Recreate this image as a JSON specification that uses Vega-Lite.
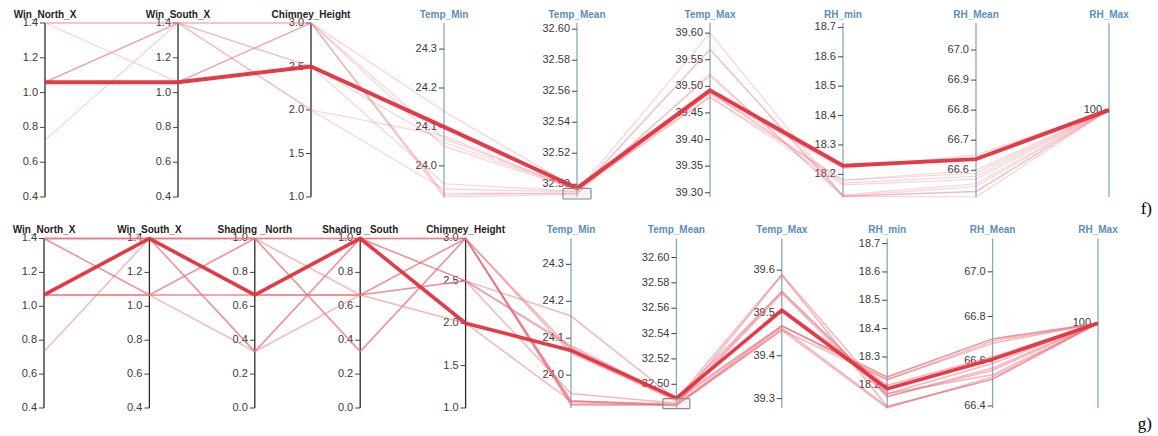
{
  "$schema": "https://vega.github.io/schema/vega-lite/v6.json",
  "padding": 0,
  "background": "white",
  "config": {
    "view": {"stroke": null},
    "font": "Liberation Sans",
    "text": {"font": "Liberation Sans"},
    "title": {"font": "Liberation Serif"}
  },
  "datasets": {
    "f_dims": [
      {"dim": "Win_North_X", "title": "Win_North_X", "group": "design", "lo": 0.4, "hi": 1.4, "fmt": ".1f", "ticks": [0.4, 0.6, 0.8, 1.0, 1.2, 1.4]},
      {"dim": "Win_South_X", "title": "Win_South_X", "group": "design", "lo": 0.4, "hi": 1.4, "fmt": ".1f", "ticks": [0.4, 0.6, 0.8, 1.0, 1.2, 1.4]},
      {"dim": "Chimney_Height", "title": "Chimney_Height", "group": "design", "lo": 1.0, "hi": 3.0, "fmt": ".1f", "ticks": [1.0, 1.5, 2.0, 2.5, 3.0]},
      {"dim": "Temp_Min", "title": "Temp_Min", "group": "climate", "lo": 23.92, "hi": 24.367, "fmt": ".1f", "ticks": [24.0, 24.1, 24.2, 24.3]},
      {"dim": "Temp_Mean", "title": "Temp_Mean", "group": "climate", "lo": 32.4918, "hi": 32.604, "fmt": ".2f", "ticks": [32.5, 32.52, 32.54, 32.56, 32.58, 32.6]},
      {"dim": "Temp_Max", "title": "Temp_Max", "group": "climate", "lo": 39.292, "hi": 39.619, "fmt": ".2f", "ticks": [39.3, 39.35, 39.4, 39.45, 39.5, 39.55, 39.6]},
      {"dim": "RH_min", "title": "RH_min", "group": "climate", "lo": 18.123, "hi": 18.715, "fmt": ".1f", "ticks": [18.2, 18.3, 18.4, 18.5, 18.6, 18.7]},
      {"dim": "RH_Mean", "title": "RH_Mean", "group": "climate", "lo": 66.511, "hi": 67.09, "fmt": ".1f", "ticks": [66.6, 66.7, 66.8, 66.9, 67.0]},
      {"dim": "RH_Max", "title": "RH_Max", "group": "climate", "lo": 99.5, "hi": 100.5, "fmt": "d", "ticks": [100]}
    ],
    "f_runs": [
      {"run": 1, "selected": true, "Win_North_X": 1.06, "Win_South_X": 1.06, "Chimney_Height": 2.5, "Temp_Min": 24.1, "Temp_Mean": 32.4975, "Temp_Max": 39.4925, "RH_min": 18.229, "RH_Mean": 66.637, "RH_Max": 100},
      {"run": 2, "selected": false, "Win_North_X": 1.4, "Win_South_X": 1.4, "Chimney_Height": 3.0, "Temp_Min": 24.05, "Temp_Mean": 32.4965, "Temp_Max": 39.48, "RH_min": 18.18, "RH_Mean": 66.59, "RH_Max": 100},
      {"run": 3, "selected": false, "Win_North_X": 1.4, "Win_South_X": 1.06, "Chimney_Height": 3.0, "Temp_Min": 24.07, "Temp_Mean": 32.497, "Temp_Max": 39.49, "RH_min": 18.17, "RH_Mean": 66.58, "RH_Max": 100},
      {"run": 4, "selected": false, "Win_North_X": 1.06, "Win_South_X": 1.4, "Chimney_Height": 2.5, "Temp_Min": 24.06, "Temp_Mean": 32.4968, "Temp_Max": 39.485, "RH_min": 18.22, "RH_Mean": 66.651, "RH_Max": 100},
      {"run": 5, "selected": false, "Win_North_X": 0.727, "Win_South_X": 1.4, "Chimney_Height": 2.5, "Temp_Min": 23.954, "Temp_Mean": 32.4955, "Temp_Max": 39.6, "RH_min": 18.126, "RH_Mean": 66.546, "RH_Max": 100},
      {"run": 6, "selected": false, "Win_North_X": 1.06, "Win_South_X": 1.4, "Chimney_Height": 3.0, "Temp_Min": 23.93, "Temp_Mean": 32.494, "Temp_Max": 39.569, "RH_min": 18.125, "RH_Mean": 66.529, "RH_Max": 100},
      {"run": 7, "selected": false, "Win_North_X": 1.06, "Win_South_X": 1.06, "Chimney_Height": 3.0, "Temp_Min": 23.92, "Temp_Mean": 32.4935, "Temp_Max": 39.523, "RH_min": 18.125, "RH_Mean": 66.511, "RH_Max": 100},
      {"run": 8, "selected": false, "Win_North_X": 1.4, "Win_South_X": 1.4, "Chimney_Height": 2.0, "Temp_Min": 24.077, "Temp_Mean": 32.496, "Temp_Max": 39.48, "RH_min": 18.164, "RH_Mean": 66.57, "RH_Max": 100},
      {"run": 9, "selected": false, "Win_North_X": 1.06, "Win_South_X": 1.4, "Chimney_Height": 2.0, "Temp_Min": 23.94, "Temp_Mean": 32.4952, "Temp_Max": 39.52, "RH_min": 18.13, "RH_Mean": 66.555, "RH_Max": 100},
      {"run": 10, "selected": false, "Win_North_X": 1.06, "Win_South_X": 1.06, "Chimney_Height": 3.0, "Temp_Min": 24.14, "Temp_Mean": 32.4972, "Temp_Max": 39.488, "RH_min": 18.18, "RH_Mean": 66.6, "RH_Max": 100},
      {"run": 11, "selected": false, "Win_North_X": 1.4, "Win_South_X": 1.4, "Chimney_Height": 3.0, "Temp_Min": 23.925, "Temp_Mean": 32.4945, "Temp_Max": 39.57, "RH_min": 18.126, "RH_Mean": 66.53, "RH_Max": 100}
    ],
    "f_brush": [
      {"dim": "Temp_Mean", "from": 32.4905, "to": 32.4974}
    ],
    "g_dims": [
      {"dim": "Win_North_X", "title": "Win_North_X", "group": "design", "lo": 0.4, "hi": 1.4, "fmt": ".1f", "ticks": [0.4, 0.6, 0.8, 1.0, 1.2, 1.4]},
      {"dim": "Win_South_X", "title": "Win_South_X", "group": "design", "lo": 0.4, "hi": 1.4, "fmt": ".1f", "ticks": [0.4, 0.6, 0.8, 1.0, 1.2, 1.4]},
      {"dim": "Shading_North", "title": "Shading _North", "group": "design", "lo": 0.0, "hi": 1.0, "fmt": ".1f", "ticks": [0.0, 0.2, 0.4, 0.6, 0.8, 1.0]},
      {"dim": "Shading_South", "title": "Shading _South", "group": "design", "lo": 0.0, "hi": 1.0, "fmt": ".1f", "ticks": [0.0, 0.2, 0.4, 0.6, 0.8, 1.0]},
      {"dim": "Chimney_Height", "title": "Chimney_Height", "group": "design", "lo": 1.0, "hi": 3.0, "fmt": ".1f", "ticks": [1.0, 1.5, 2.0, 2.5, 3.0]},
      {"dim": "Temp_Min", "title": "Temp_Min", "group": "climate", "lo": 23.911, "hi": 24.37, "fmt": ".1f", "ticks": [24.0, 24.1, 24.2, 24.3]},
      {"dim": "Temp_Mean", "title": "Temp_Mean", "group": "climate", "lo": 32.4813, "hi": 32.615, "fmt": ".2f", "ticks": [32.5, 32.52, 32.54, 32.56, 32.58, 32.6]},
      {"dim": "Temp_Max", "title": "Temp_Max", "group": "climate", "lo": 39.278, "hi": 39.674, "fmt": ".1f", "ticks": [39.3, 39.4, 39.5, 39.6]},
      {"dim": "RH_min", "title": "RH_min", "group": "climate", "lo": 18.12, "hi": 18.718, "fmt": ".1f", "ticks": [18.2, 18.3, 18.4, 18.5, 18.6, 18.7]},
      {"dim": "RH_Mean", "title": "RH_Mean", "group": "climate", "lo": 66.391, "hi": 67.149, "fmt": ".1f", "ticks": [66.4, 66.6, 66.8, 67.0]},
      {"dim": "RH_Max", "title": "RH_Max", "group": "climate", "lo": 99.5, "hi": 100.5, "fmt": "d", "ticks": [100]}
    ],
    "g_runs": [
      {"run": 1, "selected": true, "Win_North_X": 1.067, "Win_South_X": 1.4, "Shading_North": 0.667, "Shading_South": 1.0, "Chimney_Height": 2.0, "Temp_Min": 24.067, "Temp_Mean": 32.489, "Temp_Max": 39.506, "RH_min": 18.188, "RH_Mean": 66.609, "RH_Max": 100},
      {"run": 2, "selected": false, "Win_North_X": 1.4, "Win_South_X": 1.4, "Shading_North": 1.0, "Shading_South": 1.0, "Chimney_Height": 3.0, "Temp_Min": 23.92, "Temp_Mean": 32.484, "Temp_Max": 39.588, "RH_min": 18.125, "RH_Mean": 66.52, "RH_Max": 100},
      {"run": 3, "selected": false, "Win_North_X": 1.4, "Win_South_X": 1.067, "Shading_North": 0.667, "Shading_South": 0.667, "Chimney_Height": 3.0, "Temp_Min": 24.07, "Temp_Mean": 32.4885, "Temp_Max": 39.55, "RH_min": 18.17, "RH_Mean": 66.59, "RH_Max": 100},
      {"run": 4, "selected": false, "Win_North_X": 1.067, "Win_South_X": 1.067, "Shading_North": 0.667, "Shading_South": 0.667, "Chimney_Height": 2.5, "Temp_Min": 24.075, "Temp_Mean": 32.4885, "Temp_Max": 39.47, "RH_min": 18.229, "RH_Mean": 66.7, "RH_Max": 100},
      {"run": 5, "selected": false, "Win_North_X": 0.733, "Win_South_X": 1.4, "Shading_North": 0.333, "Shading_South": 1.0, "Chimney_Height": 3.0, "Temp_Min": 23.93, "Temp_Mean": 32.483, "Temp_Max": 39.46, "RH_min": 18.22, "RH_Mean": 66.69, "RH_Max": 100},
      {"run": 6, "selected": false, "Win_North_X": 1.067, "Win_South_X": 1.4, "Shading_North": 1.0, "Shading_South": 0.667, "Chimney_Height": 2.5, "Temp_Min": 24.16, "Temp_Mean": 32.488, "Temp_Max": 39.59, "RH_min": 18.16, "RH_Mean": 66.56, "RH_Max": 100},
      {"run": 7, "selected": false, "Win_North_X": 1.4, "Win_South_X": 1.4, "Shading_North": 0.333, "Shading_South": 1.0, "Chimney_Height": 2.5, "Temp_Min": 23.95, "Temp_Mean": 32.485, "Temp_Max": 39.55, "RH_min": 18.17, "RH_Mean": 66.54, "RH_Max": 100},
      {"run": 8, "selected": false, "Win_North_X": 1.067, "Win_South_X": 1.067, "Shading_North": 1.0, "Shading_South": 0.333, "Chimney_Height": 3.0, "Temp_Min": 23.92, "Temp_Mean": 32.4835, "Temp_Max": 39.465, "RH_min": 18.125, "RH_Mean": 66.52, "RH_Max": 100},
      {"run": 9, "selected": false, "Win_North_X": 1.4, "Win_South_X": 1.4, "Shading_North": 1.0, "Shading_South": 1.0, "Chimney_Height": 2.5, "Temp_Min": 24.08, "Temp_Mean": 32.4887, "Temp_Max": 39.51, "RH_min": 18.2, "RH_Mean": 66.62, "RH_Max": 100},
      {"run": 10, "selected": false, "Win_North_X": 1.067, "Win_South_X": 1.4, "Shading_North": 0.667, "Shading_South": 0.667, "Chimney_Height": 2.0, "Temp_Min": 23.93, "Temp_Mean": 32.4842, "Temp_Max": 39.47, "RH_min": 18.22, "RH_Mean": 66.68, "RH_Max": 100},
      {"run": 11, "selected": false, "Win_North_X": 1.4, "Win_South_X": 1.067, "Shading_North": 1.0, "Shading_South": 1.0, "Chimney_Height": 3.0, "Temp_Min": 24.06, "Temp_Mean": 32.487, "Temp_Max": 39.47, "RH_min": 18.23, "RH_Mean": 66.7, "RH_Max": 100},
      {"run": 12, "selected": false, "Win_North_X": 1.067, "Win_South_X": 1.067, "Shading_North": 0.333, "Shading_South": 0.667, "Chimney_Height": 3.0, "Temp_Min": 23.93, "Temp_Mean": 32.484, "Temp_Max": 39.545, "RH_min": 18.16, "RH_Mean": 66.57, "RH_Max": 100},
      {"run": 13, "selected": false, "Win_North_X": 1.4, "Win_South_X": 1.4, "Shading_North": 1.0, "Shading_South": 0.333, "Chimney_Height": 3.0, "Temp_Min": 23.925, "Temp_Mean": 32.4838, "Temp_Max": 39.46, "RH_min": 18.12, "RH_Mean": 66.53, "RH_Max": 100}
    ],
    "g_brush": [
      {"dim": "Temp_Mean", "from": 32.4808, "to": 32.4887}
    ]
  },
  "vconcat": [
    {
      "width": 1158,
      "height": 215,
      "title": {"text": "f)", "orient": "bottom", "anchor": "end", "frame": "group", "offset": -14, "dx": -6, "font": "Liberation Serif", "fontSize": 17, "fontWeight": "normal", "color": "#000000"},
      "layer": [
        {
          "data": {"name": "f_dims"},
          "mark": {"type": "rule", "strokeWidth": 1.3},
          "encoding": {
            "x": {"field": "dim", "type": "nominal", "axis": null, "scale": {"type": "point", "domain": ["Win_North_X", "Win_South_X", "Chimney_Height", "Temp_Min", "Temp_Mean", "Temp_Max", "RH_min", "RH_Mean", "RH_Max"], "range": [45, 1109], "padding": 0}},
            "y": {"datum": 0, "type": "quantitative", "axis": null, "scale": {"domain": [-0.10345, 1.1322], "nice": false, "zero": false}},
            "y2": {"datum": 1},
            "stroke": {"field": "group", "type": "nominal", "legend": null, "scale": {"domain": ["design", "climate"], "range": ["#2a2a2a", "#84a9c2"]}}
          }
        },
        {
          "data": {"name": "f_dims"},
          "transform": [
            {"flatten": ["ticks"], "as": ["tick"]},
            {"calculate": "(datum.tick - datum.lo) / (datum.hi - datum.lo)", "as": "pos"}
          ],
          "mark": {"type": "rule", "xOffset": -5, "stroke": "#444444", "strokeWidth": 1},
          "encoding": {
            "x": {"field": "dim", "type": "nominal", "axis": null, "scale": {"type": "point", "domain": ["Win_North_X", "Win_South_X", "Chimney_Height", "Temp_Min", "Temp_Mean", "Temp_Max", "RH_min", "RH_Mean", "RH_Max"], "range": [45, 1109], "padding": 0}},
            "x2": {"field": "dim"},
            "y": {"field": "pos", "type": "quantitative", "axis": null, "scale": {"domain": [-0.10345, 1.1322], "nice": false, "zero": false}}
          }
        },
        {
          "data": {"name": "f_dims"},
          "transform": [
            {"flatten": ["ticks"], "as": ["tick"]},
            {"calculate": "(datum.tick - datum.lo) / (datum.hi - datum.lo)", "as": "pos"},
            {"calculate": "format(datum.tick, datum.fmt)", "as": "label"}
          ],
          "mark": {"type": "text", "align": "right", "baseline": "middle", "dx": -7, "fontSize": 11, "fill": "#3a3a3a"},
          "encoding": {
            "x": {"field": "dim", "type": "nominal", "axis": null, "scale": {"type": "point", "domain": ["Win_North_X", "Win_South_X", "Chimney_Height", "Temp_Min", "Temp_Mean", "Temp_Max", "RH_min", "RH_Mean", "RH_Max"], "range": [45, 1109], "padding": 0}},
            "y": {"field": "pos", "type": "quantitative", "axis": null, "scale": {"domain": [-0.10345, 1.1322], "nice": false, "zero": false}},
            "text": {"field": "label"}
          }
        },
        {
          "data": {"name": "f_runs"},
          "transform": [
            {"filter": "!datum.selected"},
            {"fold": ["Win_North_X", "Win_South_X", "Chimney_Height", "Temp_Min", "Temp_Mean", "Temp_Max", "RH_min", "RH_Mean", "RH_Max"], "as": ["dim", "value"]},
            {"lookup": "dim", "from": {"data": {"name": "f_dims"}, "key": "dim", "fields": ["lo", "hi"]}},
            {"calculate": "(datum.value - datum.lo) / (datum.hi - datum.lo)", "as": "pos"}
          ],
          "mark": {"type": "line", "stroke": "#ec7b86", "strokeWidth": 1.2, "opacity": 0.35},
          "encoding": {
            "x": {"field": "dim", "type": "nominal", "axis": null, "scale": {"type": "point", "domain": ["Win_North_X", "Win_South_X", "Chimney_Height", "Temp_Min", "Temp_Mean", "Temp_Max", "RH_min", "RH_Mean", "RH_Max"], "range": [45, 1109], "padding": 0}},
            "y": {"field": "pos", "type": "quantitative", "axis": null, "scale": {"domain": [-0.10345, 1.1322], "nice": false, "zero": false}},
            "detail": {"field": "run", "type": "nominal"},
            "order": {"value": null}
          }
        },
        {
          "data": {"name": "f_runs"},
          "transform": [
            {"filter": "datum.selected"},
            {"fold": ["Win_North_X", "Win_South_X", "Chimney_Height", "Temp_Min", "Temp_Mean", "Temp_Max", "RH_min", "RH_Mean", "RH_Max"], "as": ["dim", "value"]},
            {"lookup": "dim", "from": {"data": {"name": "f_dims"}, "key": "dim", "fields": ["lo", "hi"]}},
            {"calculate": "(datum.value - datum.lo) / (datum.hi - datum.lo)", "as": "pos"}
          ],
          "mark": {"type": "line", "stroke": "#e2323e", "strokeWidth": 4, "opacity": 0.95},
          "encoding": {
            "x": {"field": "dim", "type": "nominal", "axis": null, "scale": {"type": "point", "domain": ["Win_North_X", "Win_South_X", "Chimney_Height", "Temp_Min", "Temp_Mean", "Temp_Max", "RH_min", "RH_Mean", "RH_Max"], "range": [45, 1109], "padding": 0}},
            "y": {"field": "pos", "type": "quantitative", "axis": null, "scale": {"domain": [-0.10345, 1.1322], "nice": false, "zero": false}},
            "detail": {"field": "run", "type": "nominal"},
            "order": {"value": null}
          }
        },
        {
          "data": {"name": "f_brush"},
          "transform": [
            {"lookup": "dim", "from": {"data": {"name": "f_dims"}, "key": "dim", "fields": ["lo", "hi"]}},
            {"calculate": "(datum.from - datum.lo) / (datum.hi - datum.lo)", "as": "p0"},
            {"calculate": "(datum.to - datum.lo) / (datum.hi - datum.lo)", "as": "p1"}
          ],
          "mark": {"type": "bar", "width": 28, "fill": "#d6d6d6", "fillOpacity": 0.3, "stroke": "#8a8a8a", "strokeWidth": 1.2, "cornerRadius": 1},
          "encoding": {
            "x": {"field": "dim", "type": "nominal", "axis": null, "scale": {"type": "point", "domain": ["Win_North_X", "Win_South_X", "Chimney_Height", "Temp_Min", "Temp_Mean", "Temp_Max", "RH_min", "RH_Mean", "RH_Max"], "range": [45, 1109], "padding": 0}},
            "y": {"field": "p0", "type": "quantitative", "axis": null, "scale": {"domain": [-0.10345, 1.1322], "nice": false, "zero": false}},
            "y2": {"field": "p1"}
          }
        },
        {
          "data": {"name": "f_dims"},
          "mark": {"type": "text", "align": "center", "baseline": "alphabetic", "dy": -5, "fontSize": 10, "fontWeight": "bold"},
          "encoding": {
            "x": {"field": "dim", "type": "nominal", "axis": null, "scale": {"type": "point", "domain": ["Win_North_X", "Win_South_X", "Chimney_Height", "Temp_Min", "Temp_Mean", "Temp_Max", "RH_min", "RH_Mean", "RH_Max"], "range": [45, 1109], "padding": 0}},
            "y": {"datum": 1, "type": "quantitative", "axis": null, "scale": {"domain": [-0.10345, 1.1322], "nice": false, "zero": false}},
            "text": {"field": "title"},
            "fill": {"field": "group", "type": "nominal", "legend": null, "scale": {"domain": ["design", "climate"], "range": ["#1e1e1e", "#5a8dbd"]}}
          }
        }
      ]
    },
    {
      "width": 1158,
      "height": 221,
      "title": {"text": "g)", "orient": "bottom", "anchor": "end", "frame": "group", "offset": -20, "dx": -6, "font": "Liberation Serif", "fontSize": 17, "fontWeight": "normal", "color": "#000000"},
      "layer": [
        {
          "data": {"name": "g_dims"},
          "mark": {"type": "rule", "strokeWidth": 1.3},
          "encoding": {
            "x": {"field": "dim", "type": "nominal", "axis": null, "scale": {"type": "point", "domain": ["Win_North_X", "Win_South_X", "Shading_North", "Shading_South", "Chimney_Height", "Temp_Min", "Temp_Mean", "Temp_Max", "RH_min", "RH_Mean", "RH_Max"], "range": [44, 1098], "padding": 0}},
            "y": {"datum": 0, "type": "quantitative", "axis": null, "scale": {"domain": [-0.1652, 1.1386], "nice": false, "zero": false}},
            "y2": {"datum": 1},
            "stroke": {"field": "group", "type": "nominal", "legend": null, "scale": {"domain": ["design", "climate"], "range": ["#2a2a2a", "#84a9c2"]}}
          }
        },
        {
          "data": {"name": "g_dims"},
          "transform": [
            {"flatten": ["ticks"], "as": ["tick"]},
            {"calculate": "(datum.tick - datum.lo) / (datum.hi - datum.lo)", "as": "pos"}
          ],
          "mark": {"type": "rule", "xOffset": -5, "stroke": "#444444", "strokeWidth": 1},
          "encoding": {
            "x": {"field": "dim", "type": "nominal", "axis": null, "scale": {"type": "point", "domain": ["Win_North_X", "Win_South_X", "Shading_North", "Shading_South", "Chimney_Height", "Temp_Min", "Temp_Mean", "Temp_Max", "RH_min", "RH_Mean", "RH_Max"], "range": [44, 1098], "padding": 0}},
            "x2": {"field": "dim"},
            "y": {"field": "pos", "type": "quantitative", "axis": null, "scale": {"domain": [-0.1652, 1.1386], "nice": false, "zero": false}}
          }
        },
        {
          "data": {"name": "g_dims"},
          "transform": [
            {"flatten": ["ticks"], "as": ["tick"]},
            {"calculate": "(datum.tick - datum.lo) / (datum.hi - datum.lo)", "as": "pos"},
            {"calculate": "format(datum.tick, datum.fmt)", "as": "label"}
          ],
          "mark": {"type": "text", "align": "right", "baseline": "middle", "dx": -7, "fontSize": 11, "fill": "#3a3a3a"},
          "encoding": {
            "x": {"field": "dim", "type": "nominal", "axis": null, "scale": {"type": "point", "domain": ["Win_North_X", "Win_South_X", "Shading_North", "Shading_South", "Chimney_Height", "Temp_Min", "Temp_Mean", "Temp_Max", "RH_min", "RH_Mean", "RH_Max"], "range": [44, 1098], "padding": 0}},
            "y": {"field": "pos", "type": "quantitative", "axis": null, "scale": {"domain": [-0.1652, 1.1386], "nice": false, "zero": false}},
            "text": {"field": "label"}
          }
        },
        {
          "data": {"name": "g_runs"},
          "transform": [
            {"filter": "!datum.selected"},
            {"fold": ["Win_North_X", "Win_South_X", "Shading_North", "Shading_South", "Chimney_Height", "Temp_Min", "Temp_Mean", "Temp_Max", "RH_min", "RH_Mean", "RH_Max"], "as": ["dim", "value"]},
            {"lookup": "dim", "from": {"data": {"name": "g_dims"}, "key": "dim", "fields": ["lo", "hi"]}},
            {"calculate": "(datum.value - datum.lo) / (datum.hi - datum.lo)", "as": "pos"}
          ],
          "mark": {"type": "line", "stroke": "#e96f7b", "strokeWidth": 1.5, "opacity": 0.5},
          "encoding": {
            "x": {"field": "dim", "type": "nominal", "axis": null, "scale": {"type": "point", "domain": ["Win_North_X", "Win_South_X", "Shading_North", "Shading_South", "Chimney_Height", "Temp_Min", "Temp_Mean", "Temp_Max", "RH_min", "RH_Mean", "RH_Max"], "range": [44, 1098], "padding": 0}},
            "y": {"field": "pos", "type": "quantitative", "axis": null, "scale": {"domain": [-0.1652, 1.1386], "nice": false, "zero": false}},
            "detail": {"field": "run", "type": "nominal"},
            "order": {"value": null}
          }
        },
        {
          "data": {"name": "g_runs"},
          "transform": [
            {"filter": "datum.selected"},
            {"fold": ["Win_North_X", "Win_South_X", "Shading_North", "Shading_South", "Chimney_Height", "Temp_Min", "Temp_Mean", "Temp_Max", "RH_min", "RH_Mean", "RH_Max"], "as": ["dim", "value"]},
            {"lookup": "dim", "from": {"data": {"name": "g_dims"}, "key": "dim", "fields": ["lo", "hi"]}},
            {"calculate": "(datum.value - datum.lo) / (datum.hi - datum.lo)", "as": "pos"}
          ],
          "mark": {"type": "line", "stroke": "#e2323e", "strokeWidth": 3.6, "opacity": 0.95},
          "encoding": {
            "x": {"field": "dim", "type": "nominal", "axis": null, "scale": {"type": "point", "domain": ["Win_North_X", "Win_South_X", "Shading_North", "Shading_South", "Chimney_Height", "Temp_Min", "Temp_Mean", "Temp_Max", "RH_min", "RH_Mean", "RH_Max"], "range": [44, 1098], "padding": 0}},
            "y": {"field": "pos", "type": "quantitative", "axis": null, "scale": {"domain": [-0.1652, 1.1386], "nice": false, "zero": false}},
            "detail": {"field": "run", "type": "nominal"},
            "order": {"value": null}
          }
        },
        {
          "data": {"name": "g_brush"},
          "transform": [
            {"lookup": "dim", "from": {"data": {"name": "g_dims"}, "key": "dim", "fields": ["lo", "hi"]}},
            {"calculate": "(datum.from - datum.lo) / (datum.hi - datum.lo)", "as": "p0"},
            {"calculate": "(datum.to - datum.lo) / (datum.hi - datum.lo)", "as": "p1"}
          ],
          "mark": {"type": "bar", "width": 27, "fill": "#d6d6d6", "fillOpacity": 0.3, "stroke": "#8a8a8a", "strokeWidth": 1.2, "cornerRadius": 1},
          "encoding": {
            "x": {"field": "dim", "type": "nominal", "axis": null, "scale": {"type": "point", "domain": ["Win_North_X", "Win_South_X", "Shading_North", "Shading_South", "Chimney_Height", "Temp_Min", "Temp_Mean", "Temp_Max", "RH_min", "RH_Mean", "RH_Max"], "range": [44, 1098], "padding": 0}},
            "y": {"field": "p0", "type": "quantitative", "axis": null, "scale": {"domain": [-0.1652, 1.1386], "nice": false, "zero": false}},
            "y2": {"field": "p1"}
          }
        },
        {
          "data": {"name": "g_dims"},
          "mark": {"type": "text", "align": "center", "baseline": "alphabetic", "dy": -5.5, "fontSize": 10, "fontWeight": "bold"},
          "encoding": {
            "x": {"field": "dim", "type": "nominal", "axis": null, "scale": {"type": "point", "domain": ["Win_North_X", "Win_South_X", "Shading_North", "Shading_South", "Chimney_Height", "Temp_Min", "Temp_Mean", "Temp_Max", "RH_min", "RH_Mean", "RH_Max"], "range": [44, 1098], "padding": 0}},
            "y": {"datum": 1, "type": "quantitative", "axis": null, "scale": {"domain": [-0.1652, 1.1386], "nice": false, "zero": false}},
            "text": {"field": "title"},
            "fill": {"field": "group", "type": "nominal", "legend": null, "scale": {"domain": ["design", "climate"], "range": ["#1e1e1e", "#5a8dbd"]}}
          }
        }
      ]
    }
  ],
  "spacing": 0,
  "bounds": "flush"
}
